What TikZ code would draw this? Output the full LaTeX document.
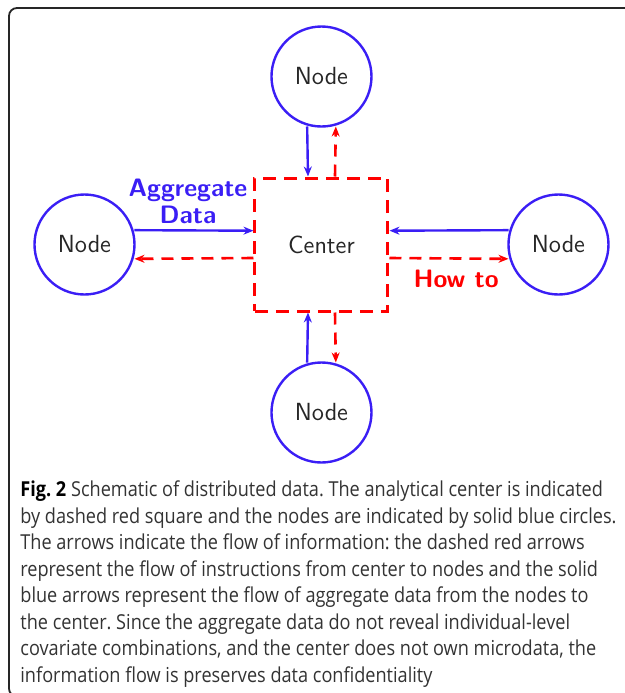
\documentclass[tikz,border=0pt]{standalone}
\usepackage{fontspec}
\newfontfamily\capfont[FakeStretch=0.88]{Open Sans}
\usetikzlibrary{positioning}
\usetikzlibrary{arrows.meta}
\definecolor{flow-blue}{HTML}{3A1EF5}
\definecolor{flow-red}{HTML}{FF0000}
\colorlet{data}{flow-blue}
\colorlet{instr}{flow-red}
\tikzset{
  site/.style={circle, draw=data, line width=1.2pt, minimum size=50pt, inner sep=0pt, outer sep=1pt,
    font=\fontsize{12.4}{15}\sffamily, text=black!85},
  hub/.style={rectangle, draw=instr, line width=1.5pt, dash pattern=on 6.5pt off 4pt,
    minimum size=66.5pt, inner sep=0pt, font=\fontsize{12.4}{15}\sffamily, text=black!85},
  data-path/.style={draw=data, line width=1.2pt, -{Stealth[length=5pt,width=4pt]}},
  instr-path/.style={draw=instr, line width=1.3pt, dash pattern=on 6pt off 4pt, -{Stealth[length=5pt,width=4pt]}},
  flow-label/.style={font=\fontsize{12.6}{13.5}\sffamily\bfseries, align=center},
}

\begin{document}
\begin{tikzpicture}[x=0.5pt, y=0.5pt]
\useasboundingbox (-321.5,-448.5) rectangle (303.5,244.5);
\clip (-321.5,-448.5) rectangle (303.5,244.5);
\draw[black!85, line width=0.9pt, rounded corners=4pt] (-312.5,-452) rectangle (312,236.5);
\node[hub] at (0,0) (center) {Center};
\node[site] at (0,168) (top) {Node};
\node[site] at (-237,0) (left) {Node};
\node[site] at (237,0) (right) {Node};
\node[site] at (0,-168) (bottom) {Node};
\draw[data-path] (top.254) -- ([xshift=-6.75pt]center.north);
\draw[instr-path] ([xshift=6.75pt]center.north) -- (top.286);
\draw[data-path] (bottom.106) -- ([xshift=-6.75pt]center.south);
\draw[instr-path] ([xshift=6.75pt]center.south) -- (bottom.74);
\draw[data-path] (left.16) -- ([yshift=6.9pt]center.west)
  node[flow-label, pos=0.45, above, inner sep=2.5pt, text=data] {Aggregate\\Data};
\draw[instr-path] ([yshift=-6.75pt]center.west) -- (left.-16);
\draw[data-path] (right.164) -- ([yshift=6.9pt]center.east);
\draw[instr-path] ([yshift=-6.75pt]center.east) -- (right.196)
  node[flow-label, pos=0.56, below, inner sep=5pt, text=instr] {How to};
\node[anchor=north west, align=left, inner sep=0pt, text=black!80,
  font=\capfont\fontsize{10.3}{13.25}\selectfont\frenchspacing] at (-301.5,-236) (caption) {%
  {\bfseries\color{black}Fig. 2} Schematic of distributed data. The analytical center is indicated\\
  by dashed red square and the nodes are indicated by solid blue circles.\\
  The arrows indicate the flow of information: the dashed red arrows\\
  represent the flow of instructions from center to nodes and the solid\\
  blue arrows represent the flow of aggregate data from the nodes to\\
  the center. Since the aggregate data do not reveal individual-level\\
  covariate combinations, and the center does not own microdata, the\\
  information flow is preserves data confidentiality};
\end{tikzpicture}
\end{document}
